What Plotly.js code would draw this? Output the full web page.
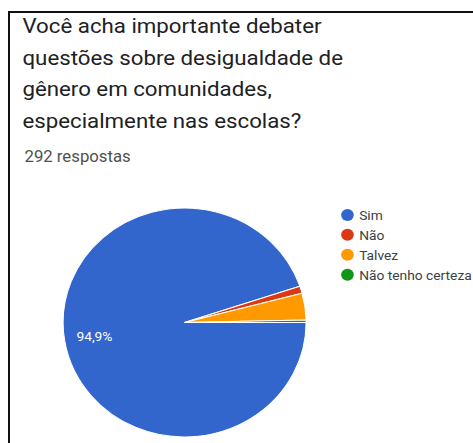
<!DOCTYPE html>
<html>
<head>
<meta charset="utf-8">
<script src="https://cdn.plot.ly/plotly-3.0.1.min.js"></script>
<style>
  html, body { margin: 0; padding: 0; background: #fff; }
  #wrap { position: relative; width: 473px; height: 443px; overflow: hidden; background: #fff; }
  #chart { position: absolute; left: 0; top: 0; width: 446px; height: 443px;
           transform: scaleX(1.061); transform-origin: 0 0; }
  #frame { position: absolute; left: 8px; top: 11px; width: 500px; height: 500px;
           border-left: 2px solid #111; border-top: 2px solid #111; pointer-events: none; }
</style>
</head>
<body>
<div id="wrap">
  <div id="chart"></div>
  <div id="frame"></div>
</div>
<script>
// Data
const categories = ["Sim", "Não", "Talvez", "Não tenho certeza"];
const counts = [277, 3, 11, 1];
const colors = ["#3366cc", "#dc3912", "#ff9900", "#109618"];
const titleLines = [
  "Você acha importante debater",
  "questões sobre desigualdade de",
  "gênero em comunidades,",
  "especialmente nas escolas?"
];
const subtitle = "292 respostas";

const W = 446, H = 443;
const px = x => x / W;
const py = y => 1 - y / H;

const cx = 174, cy = 322.5, r = 114.5;

const total = counts.reduce((a, b) => a + b, 0);
const fmt = v => (100 * v / total).toFixed(1).replace(".", ",") + "%";

const pie = {
  type: "pie",
  labels: categories,
  values: counts,
  sort: false,
  direction: "clockwise",
  rotation: 90,
  marker: { colors: colors, line: { color: "#ffffff", width: 1 } },
  textinfo: "none",
  hoverinfo: "none",
  showlegend: false,
  domain: { x: [px(cx - r), px(cx + r)], y: [py(cy + r), py(cy - r)] }
};

const legendTraces = categories.map((c, i) => ({
  type: "scatter",
  mode: "markers",
  x: [null], y: [null],
  name: c,
  marker: { color: colors[i], size: 12, symbol: "circle" },
  hoverinfo: "none",
  showlegend: true
}));

const annotations = titleLines.map((t, i) => ({
  text: t, xref: "paper", yref: "paper",
  x: px(18.6), y: py(26 + i * 31.7), xanchor: "left", yanchor: "middle",
  showarrow: false, font: { family: "Roboto", size: 21, color: "#202124" }
}));
annotations.push({
  text: subtitle, xref: "paper", yref: "paper",
  x: px(20.5), y: py(156.3), xanchor: "left", yanchor: "middle",
  showarrow: false, font: { family: "Roboto", size: 15.8, color: "#505050" }
});

// label of the largest slice, placed along its mid-angle
const midA = (counts[0] / total) * Math.PI;
const kr = 0.75;
annotations.push({
  text: fmt(counts[0]), xref: "paper", yref: "paper",
  x: px(cx + kr * r * Math.cos(midA)), y: py(cy + kr * r * Math.sin(midA)),
  xanchor: "center", yanchor: "middle", showarrow: false,
  font: { family: "Roboto", size: 13, color: "#ffffff" }
});

const layout = {
  width: W, height: H,
  margin: { l: 0, r: 0, t: 0, b: 0, autoexpand: false },
  paper_bgcolor: "rgba(0,0,0,0)", plot_bgcolor: "rgba(0,0,0,0)",
  xaxis: { visible: false, domain: [0.95, 1] },
  yaxis: { visible: false, domain: [0.95, 1] },
  showlegend: true,
  legend: {
    x: px(307.5), y: py(200), xanchor: "left", yanchor: "top",
    font: { family: "Roboto", size: 13, color: "#3c4043" },
    bgcolor: "rgba(0,0,0,0)", itemwidth: 30, tracegroupgap: 0
  },
  annotations: annotations
};

Plotly.newPlot("chart", [pie].concat(legendTraces), layout, { displayModeBar: false, staticPlot: true })
  .then(() => {
    document.querySelectorAll("#chart .legendtext").forEach(el => {
      const x = parseFloat(el.getAttribute("x") || "0");
      el.setAttribute("x", x - 9);
    });
  });
</script>
</body>
</html>
